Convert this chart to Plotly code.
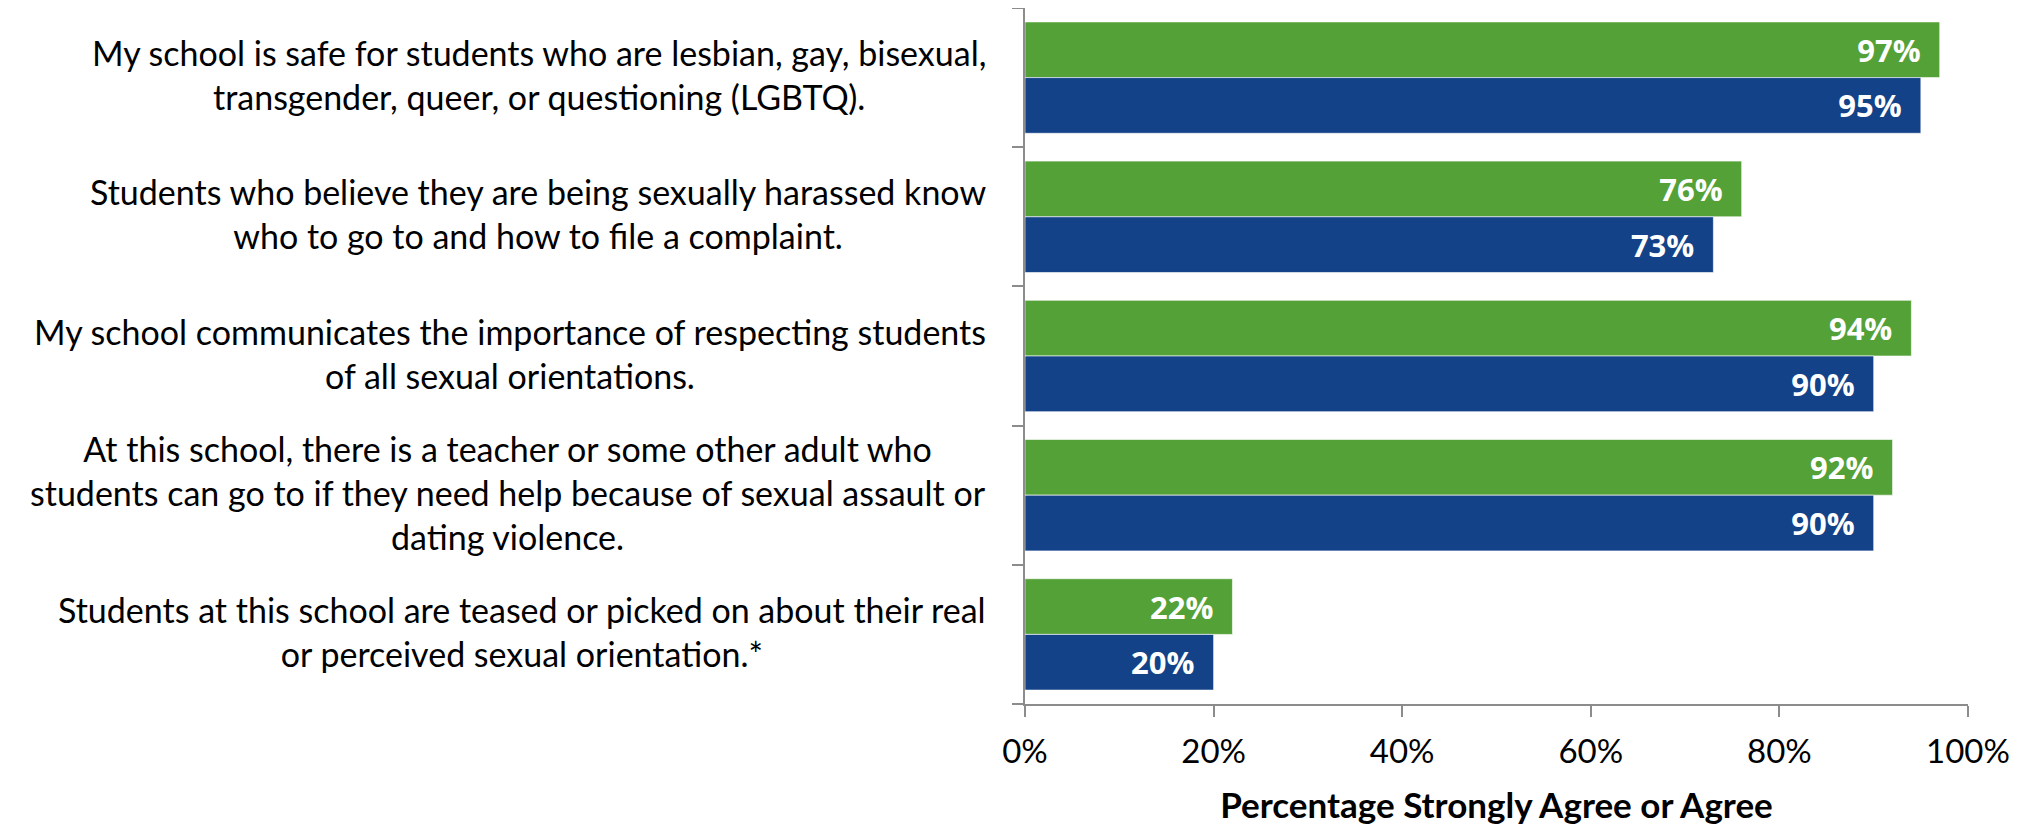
import plotly.graph_objects as go

categories = [
    "My school is safe for students who are lesbian, gay, bisexual,<br>transgender, queer, or questioning (LGBTQ).",
    "Students who believe they are being sexually harassed know<br>who to go to and how to file a complaint.",
    "My school communicates the importance of respecting students<br>of all sexual orientations.",
    "At this school, there is a teacher or some other adult who<br>students can go to if they need help because of sexual assault or<br>dating violence.",
    "Students at this school are teased or picked on about their real<br>or perceived sexual orientation.*",
]
green_values = [97, 76, 94, 92, 22]
blue_values = [95, 73, 90, 90, 20]
x_tickvals = [0, 20, 40, 60, 80, 100]
x_ticktext = ["0%", "20%", "40%", "60%", "80%", "100%"]
x_title = "Percentage Strongly Agree or Agree"

GREEN = "#54A137"
BLUE = "#134289"
AXIS = "#8C8C8C"
NBSP = "\u00a0"

ypos = list(range(len(categories)))

fig = go.Figure()
for vals, col in ((green_values, GREEN), (blue_values, BLUE)):
    fig.add_trace(go.Bar(
        y=ypos, x=vals, orientation="h",
        marker=dict(color=col, line=dict(color="rgba(255,255,255,0.6)", width=1)),
        text=[f"<b>{v}%</b>{NBSP*2}" for v in vals],
        textposition="inside", insidetextanchor="end", textangle=0,
        constraintext="none",
        textfont=dict(family="Open Sans", size=31, color="white"),
        hoverinfo="skip", showlegend=False,
    ))

for i, c in enumerate(categories):
    fig.add_annotation(
        x=0, xref="paper", xanchor="right", xshift=-37,
        y=i, yref="y", yanchor="middle", yshift=3,
        text=c, showarrow=False, align="center",
        font=dict(family="Lato", size=34, color="black"),
    )

fig.update_layout(
    width=2020, height=817,
    margin=dict(l=1017, r=60, t=0, b=121),
    barmode="group", bargap=0.2, bargroupgap=0,
    plot_bgcolor="white", paper_bgcolor="white",
    font=dict(family="Lato", color="black"),
)
fig.update_xaxes(
    range=[0, 100], tickvals=x_tickvals, ticktext=x_ticktext,
    showgrid=False, zeroline=False,
    showline=True, linecolor=AXIS, linewidth=2,
    ticks="outside", ticklen=11, tickwidth=2, tickcolor=AXIS,
    ticklabelstandoff=6,
    tickfont=dict(family="Lato", size=33, color="black"),
    title=dict(text=f"<b>{x_title}</b>", font=dict(family="Lato", size=35, color="black"), standoff=26),
)
fig.update_yaxes(
    range=[len(categories) - 0.5, -0.5],
    tickvals=[i - 0.5 for i in range(len(categories) + 1)],
    showticklabels=False, showgrid=False, zeroline=False,
    showline=True, linecolor=AXIS, linewidth=2,
    ticks="outside", ticklen=11, tickwidth=2, tickcolor=AXIS,
)

fig.write_html("out.html")
